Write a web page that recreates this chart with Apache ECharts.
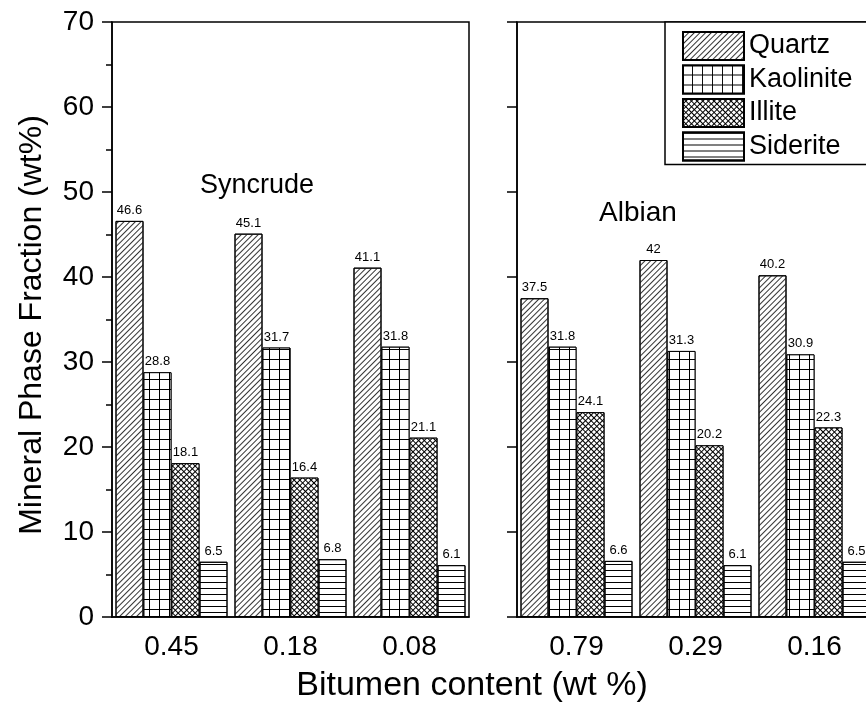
<!DOCTYPE html>
<html>
<head>
<meta charset="utf-8">
<script src="https://cdn.jsdelivr.net/npm/echarts@6/dist/echarts.min.js"></script>
<style>
  html, body { margin: 0; padding: 0; background: #fff; }
  #chart { width: 866px; height: 709px; }
</style>
</head>
<body>
<div id="chart"></div>
<script>
// data
var syncrudeCats = ['0.45', '0.18', '0.08']
var albianCats = ['0.79', '0.29', '0.16']
var minerals = ['Quartz', 'Kaolinite', 'Illite', 'Siderite']

var syncrudeQuartz = [46.6, 45.1, 41.1]
var syncrudeKaolinite = [28.8, 31.7, 31.8]
var syncrudeIllite = [18.1, 16.4, 21.1]
var syncrudeSiderite = [6.5, 6.8, 6.1]

var albianQuartz = [37.5, 42, 40.2]
var albianKaolinite = [31.8, 31.3, 30.9]
var albianIllite = [24.1, 20.2, 22.3]
var albianSiderite = [6.6, 6.1, 6.5]

var FONT = '"Liberation Sans", Arial, sans-serif'

// hatch patterns per mineral
var styles = {
  Quartz: {
    color: '#fff',
    decal: { symbol: 'rect', color: '#333', dashArrayX: [1, 0], dashArrayY: [1, 3], rotation: -Math.PI / 4 }
  },
  Kaolinite: {
    color: '#000',
    decal: { symbol: 'rect', color: '#fff', dashArrayX: [9, 1], dashArrayY: [9, 1], rotation: 0 }
  },
  Illite: {
    color: '#000',
    decal: { symbol: 'rect', color: '#fff', dashArrayX: [3, 1], dashArrayY: [3, 1], rotation: Math.PI / 4 }
  },
  Siderite: {
    color: '#fff',
    decal: { symbol: 'rect', color: '#000', dashArrayX: [1, 0], dashArrayY: [1, 5], rotation: 0 }
  }
}

function barSeries(name, data, idx) {
  return {
    name: name,
    type: 'bar',
    xAxisIndex: idx * 2,
    yAxisIndex: idx,
    barWidth: 28,
    barGap: '0%',
    data: data,
    itemStyle: {
      color: styles[name].color,
      decal: styles[name].decal,
      borderColor: '#000',
      borderWidth: 1
    },
    label: {
      show: true,
      position: 'top',
      distance: 4,
      fontSize: 13,
      fontFamily: FONT,
      color: '#000'
    }
  }
}

function mainX(idx, cats) {
  return {
    type: 'category',
    gridIndex: idx,
    data: cats,
    axisLine: { lineStyle: { color: '#000', width: 1.5 } },
    axisTick: { alignWithLabel: true, length: 11, lineStyle: { color: '#000', width: 1.5 } },
    axisLabel: { fontSize: 28, fontFamily: FONT, color: '#000', margin: 16 },
    splitLine: { show: false }
  }
}

function sideX(idx, cats) {
  return {
    type: 'category',
    gridIndex: idx,
    data: cats,
    axisLine: { show: false },
    axisTick: { length: 7, lineStyle: { color: '#000', width: 1.5 } },
    axisLabel: { show: false },
    splitLine: { show: false }
  }
}

var chart = echarts.init(document.getElementById('chart'))
chart.setOption({
  animation: false,
  backgroundColor: '#fff',
  grid: [
    { left: 112, top: 22, width: 357, height: 595, outerBoundsMode: 'none', containLabel: false, show: true, borderColor: '#000', borderWidth: 1.5, backgroundColor: 'transparent' },
    { left: 517, top: 22, width: 357, height: 595, outerBoundsMode: 'none', containLabel: false, show: true, borderColor: '#000', borderWidth: 1.5, backgroundColor: 'transparent' }
  ],
  legend: {
    data: minerals,
    left: 665,
    top: 22,
    orient: 'vertical',
    icon: 'rect',
    itemWidth: 61,
    itemHeight: 28,
    itemGap: 3.5,
    padding: [9, 30, 3, 17],
    borderColor: '#000',
    borderWidth: 1.5,
    backgroundColor: '#fff',
    textStyle: { fontSize: 27, lineHeight: 28, fontFamily: FONT, color: '#000' }
  },
  xAxis: [
    mainX(0, syncrudeCats), sideX(0, syncrudeCats),
    mainX(1, albianCats), sideX(1, albianCats)
  ],
  yAxis: [
    {
      type: 'value', gridIndex: 0, min: 0, max: 70, interval: 10,
      axisLine: { show: true, lineStyle: { color: '#000', width: 1.5 } },
      axisTick: { show: true, length: 10, lineStyle: { color: '#000', width: 1.5 } },
      minorTick: { show: true, splitNumber: 2, length: 6, lineStyle: { color: '#000', width: 1.5 } },
      axisLabel: { fontSize: 28, fontFamily: FONT, color: '#000', margin: 18 },
      splitLine: { show: false }
    },
    {
      type: 'value', gridIndex: 1, min: 0, max: 70, interval: 10,
      axisLine: { show: true, lineStyle: { color: '#000', width: 1.5 } },
      axisTick: { show: true, length: 10, lineStyle: { color: '#000', width: 1.5 } },
      axisLabel: { show: false },
      splitLine: { show: false }
    }
  ],
  series: [
    barSeries('Quartz', syncrudeQuartz, 0),
    barSeries('Kaolinite', syncrudeKaolinite, 0),
    barSeries('Illite', syncrudeIllite, 0),
    barSeries('Siderite', syncrudeSiderite, 0),
    barSeries('Quartz', albianQuartz, 1),
    barSeries('Kaolinite', albianKaolinite, 1),
    barSeries('Illite', albianIllite, 1),
    barSeries('Siderite', albianSiderite, 1)
  ],
  graphic: [
    { type: 'text', left: 200, top: 172, style: { text: 'Syncrude', fontSize: 27, fontFamily: FONT, fill: '#000' } },
    { type: 'text', left: 599, top: 199, style: { text: 'Albian', fontSize: 28, fontFamily: FONT, fill: '#000' } },
    { type: 'text', x: 472, y: 686, style: { text: 'Bitumen content (wt %)', fontSize: 34, fontFamily: FONT, fill: '#000', align: 'center', verticalAlign: 'middle' } },
    { type: 'text', x: 32, y: 325, rotation: Math.PI / 2, style: { text: 'Mineral Phase Fraction (wt%)', fontSize: 32, fontFamily: FONT, fill: '#000', align: 'center', verticalAlign: 'middle' } }
  ]
})
</script>
</body>
</html>
